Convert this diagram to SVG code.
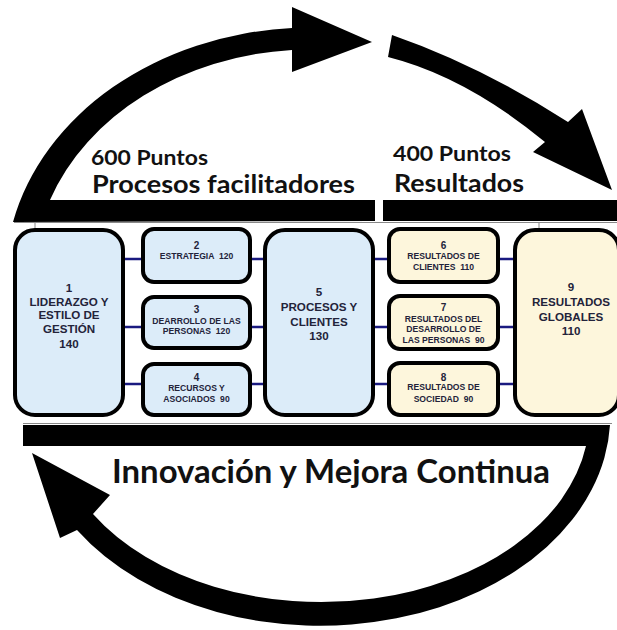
<svg xmlns="http://www.w3.org/2000/svg" width="617" height="630" viewBox="0 0 617 630">
<style>
.bb{fill:#dcecf9;stroke:#000;stroke-width:4}
.by{fill:#fdf6dc;stroke:#000;stroke-width:4}
.t{font-family:"Liberation Sans",Arial,sans-serif;font-weight:bold;fill:#23233a;text-anchor:middle}
.big{font-size:11.6px}
.sm{font-size:8.6px}
.num{font-size:10px}
.h{font-family:Lato,"Liberation Sans",sans-serif;font-weight:bold;fill:#111}
.conn{stroke:#1a1a80;stroke-width:2.5;fill:none}
.thin{stroke:#888;stroke-width:1;fill:none}
.arr{fill:#000}
</style>
<rect width="617" height="630" fill="#fff"/>
<g id="cycle">
<path class="arr" d="M13 222 A306 250 0 0 1 292 28 L292 7 L372 42 L292 72 L292 50 A278 227 0 0 0 50 200 L375 200 L375 221 Z"/>
<rect class="arr" x="383" y="200" width="234" height="21"/>
<path class="arr" d="M392 35 Q480 65.5 568 122 L582 109 L612 190 L533 152 L545 142 Q465.5 76.5 388 57 Z"/>
<path class="arr" d="M23 425 L610 425 A290 210 0 0 1 77 530 L60 538 L32 453 L110 495 L93 514 A268 185 0 0 0 586 446 L23 446 Z"/>
<line class="thin" x1="14" y1="222.5" x2="617" y2="222.5"/>
<line class="thin" x1="35" y1="222" x2="35" y2="229"/>
<line class="thin" x1="539" y1="222" x2="539" y2="229"/>
<line class="thin" x1="23" y1="423.5" x2="612" y2="423.5"/>
</g>
<g id="headers">
<text class="h" x="91" y="165" font-size="20" textLength="117" lengthAdjust="spacingAndGlyphs">600 Puntos</text>
<text class="h" x="92" y="193" font-size="24" textLength="263" lengthAdjust="spacingAndGlyphs">Procesos facilitadores</text>
<text class="h" x="393" y="161" font-size="20" textLength="118" lengthAdjust="spacingAndGlyphs">400 Puntos</text>
<text class="h" x="394" y="192" font-size="24" textLength="130" lengthAdjust="spacingAndGlyphs">Resultados</text>
<text class="h" x="112" y="483" font-size="32" textLength="438" lengthAdjust="spacingAndGlyphs">Innovación y Mejora Continua</text>
</g>
<g id="connectors">
<line class="conn" x1="125" y1="259" x2="141" y2="259"/>
<line class="conn" x1="125" y1="327" x2="141" y2="327"/>
<line class="conn" x1="125" y1="384" x2="141" y2="384"/>
<line class="conn" x1="252" y1="259" x2="263" y2="259"/>
<line class="conn" x1="252" y1="327" x2="263" y2="327"/>
<line class="conn" x1="252" y1="384" x2="263" y2="384"/>
<line class="conn" x1="375" y1="259" x2="387" y2="259"/>
<line class="conn" x1="375" y1="327" x2="387" y2="327"/>
<line class="conn" x1="375" y1="384" x2="387" y2="384"/>
<line class="conn" x1="500" y1="259" x2="513" y2="259"/>
<line class="conn" x1="500" y1="327" x2="513" y2="327"/>
<line class="conn" x1="500" y1="384" x2="513" y2="384"/>
</g>
<g id="n1">
<rect class="bb" x="15" y="230" width="108" height="185" rx="20"/>
<text class="t big" x="69" y="292">1</text>
<text class="t big" x="69" y="306">LIDERAZGO Y</text>
<text class="t big" x="69" y="319">ESTILO DE</text>
<text class="t big" x="69" y="333">GESTIÓN</text>
<text class="t big" x="69" y="348">140</text>
</g>
<g id="n2">
<rect class="bb" x="143" y="229" width="107" height="53" rx="11"/>
<text class="t num" x="196.5" y="249">2</text>
<text class="t sm" x="196.5" y="259" xml:space="preserve">ESTRATEGIA  120</text>
</g>
<g id="n3">
<rect class="bb" x="143" y="297" width="107" height="51" rx="11"/>
<text class="t num" x="196.5" y="313">3</text>
<text class="t sm" x="196.5" y="324">DEARROLLO DE LAS</text>
<text class="t sm" x="196.5" y="334" xml:space="preserve">PERSONAS  120</text>
</g>
<g id="n4">
<rect class="bb" x="143" y="364" width="107" height="51" rx="11"/>
<text class="t num" x="196.5" y="381">4</text>
<text class="t sm" x="196.5" y="391">RECURSOS Y</text>
<text class="t sm" x="196.5" y="402" xml:space="preserve">ASOCIADOS  90</text>
</g>
<g id="n5">
<rect class="bb" x="265" y="230" width="108" height="185" rx="20"/>
<text class="t big" x="319" y="296">5</text>
<text class="t big" x="319" y="311">PROCESOS Y</text>
<text class="t big" x="319" y="326">CLIENTES</text>
<text class="t big" x="319" y="340">130</text>
</g>
<g id="n6">
<rect class="by" x="389" y="229" width="109" height="53" rx="11"/>
<text class="t num" x="443.5" y="249">6</text>
<text class="t sm" x="443.5" y="259">RESULTADOS DE</text>
<text class="t sm" x="443.5" y="270" xml:space="preserve">CLIENTES  110</text>
</g>
<g id="n7">
<rect class="by" x="389" y="296" width="109" height="53" rx="11"/>
<text class="t num" x="443.5" y="311">7</text>
<text class="t sm" x="443.5" y="322">RESULTADOS DEL</text>
<text class="t sm" x="443.5" y="332">DESARROLLO DE</text>
<text class="t sm" x="443.5" y="343" xml:space="preserve">LAS PERSONAS  90</text>
</g>
<g id="n8">
<rect class="by" x="389" y="363" width="109" height="52" rx="11"/>
<text class="t num" x="443.5" y="381">8</text>
<text class="t sm" x="443.5" y="390">RESULTADOS DE</text>
<text class="t sm" x="443.5" y="402" xml:space="preserve">SOCIEDAD  90</text>
</g>
<g id="n9">
<rect class="by" x="515" y="230" width="104" height="185" rx="20"/>
<text class="t big" x="571" y="291">9</text>
<text class="t big" x="571" y="306">RESULTADOS</text>
<text class="t big" x="571" y="321">GLOBALES</text>
<text class="t big" x="571" y="335">110</text>
</g>
</svg>
